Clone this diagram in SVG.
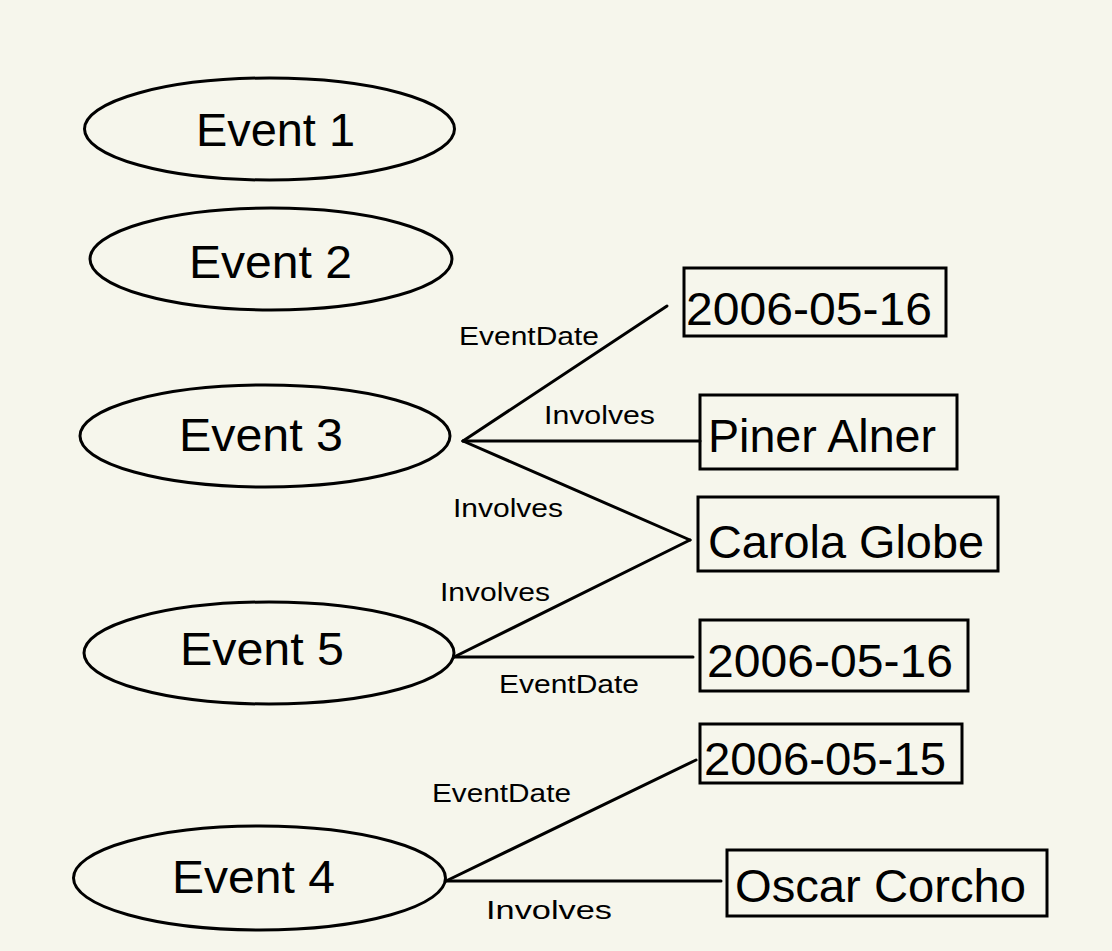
<svg xmlns="http://www.w3.org/2000/svg" width="1112" height="951" viewBox="0 0 1112 951">
<style>
.bg{fill:#f6f6ec}
.ev{fill:none;stroke:#000;stroke-width:3}
.box{fill:none;stroke:#000;stroke-width:3}
.edge{stroke:#000;stroke-width:3;fill:none;stroke-linecap:round}
.t{font-family:"Liberation Sans",Arial,sans-serif;fill:#000}
.big{font-size:46px}
.val{font-size:47px}
.lbl{font-size:26px}
</style>
<rect class="bg" x="0" y="0" width="1112" height="951"/>
<g id="connectors">
<line class="edge" x1="463" y1="441" x2="667" y2="306"/>
<line class="edge" x1="463" y1="441" x2="700" y2="441"/>
<line class="edge" x1="463" y1="441" x2="690" y2="540"/>
<line class="edge" x1="454" y1="657" x2="690" y2="540"/>
<line class="edge" x1="454" y1="657" x2="693" y2="657"/>
<line class="edge" x1="446" y1="881" x2="696" y2="760"/>
<line class="edge" x1="446" y1="881" x2="721" y2="881"/>
<text class="t lbl" x="459" y="345" textLength="140" lengthAdjust="spacingAndGlyphs">EventDate</text>
<text class="t lbl" x="544" y="424" textLength="111" lengthAdjust="spacingAndGlyphs">Involves</text>
<text class="t lbl" x="453" y="517" textLength="110" lengthAdjust="spacingAndGlyphs">Involves</text>
<text class="t lbl" x="440" y="601" textLength="110" lengthAdjust="spacingAndGlyphs">Involves</text>
<text class="t lbl" x="499" y="693" textLength="140" lengthAdjust="spacingAndGlyphs">EventDate</text>
<text class="t lbl" x="432" y="802" textLength="139" lengthAdjust="spacingAndGlyphs">EventDate</text>
<text class="t lbl" x="486" y="919" textLength="126" lengthAdjust="spacingAndGlyphs">Involves</text>
</g>
<g id="event1">
<ellipse class="ev" cx="269.5" cy="129" rx="185" ry="51"/>
<text class="t big" x="196" y="146" textLength="159" lengthAdjust="spacingAndGlyphs">Event 1</text>
</g>
<g id="event2">
<ellipse class="ev" cx="271" cy="259" rx="181" ry="51"/>
<text class="t big" x="189" y="278" textLength="163" lengthAdjust="spacingAndGlyphs">Event 2</text>
</g>
<g id="event3">
<ellipse class="ev" cx="265" cy="436" rx="185" ry="51"/>
<text class="t big" x="179" y="451" textLength="164" lengthAdjust="spacingAndGlyphs">Event 3</text>
</g>
<g id="event5">
<ellipse class="ev" cx="269" cy="653" rx="185" ry="51"/>
<text class="t big" x="180" y="665" textLength="164" lengthAdjust="spacingAndGlyphs">Event 5</text>
</g>
<g id="event4">
<ellipse class="ev" cx="259.5" cy="878" rx="186" ry="52"/>
<text class="t big" x="172" y="893" textLength="163" lengthAdjust="spacingAndGlyphs">Event 4</text>
</g>
<g id="date1">
<rect class="box" x="684" y="268" width="262" height="68"/>
<text class="t val" x="686" y="325" textLength="246" lengthAdjust="spacingAndGlyphs">2006-05-16</text>
</g>
<g id="piner">
<rect class="box" x="700" y="395" width="257" height="74"/>
<text class="t val" x="708" y="452" textLength="228" lengthAdjust="spacingAndGlyphs">Piner Alner</text>
</g>
<g id="carola">
<rect class="box" x="698" y="497" width="300" height="74"/>
<text class="t val" x="708" y="558" textLength="276" lengthAdjust="spacingAndGlyphs">Carola Globe</text>
</g>
<g id="date2">
<rect class="box" x="700" y="620" width="268" height="71"/>
<text class="t val" x="707" y="677" textLength="246" lengthAdjust="spacingAndGlyphs">2006-05-16</text>
</g>
<g id="date3">
<rect class="box" x="700" y="724" width="262" height="59"/>
<text class="t val" x="704" y="775" textLength="242" lengthAdjust="spacingAndGlyphs">2006-05-15</text>
</g>
<g id="oscar">
<rect class="box" x="727" y="850" width="320" height="66"/>
<text class="t val" x="735" y="902" textLength="291" lengthAdjust="spacingAndGlyphs">Oscar Corcho</text>
</g>
</svg>
